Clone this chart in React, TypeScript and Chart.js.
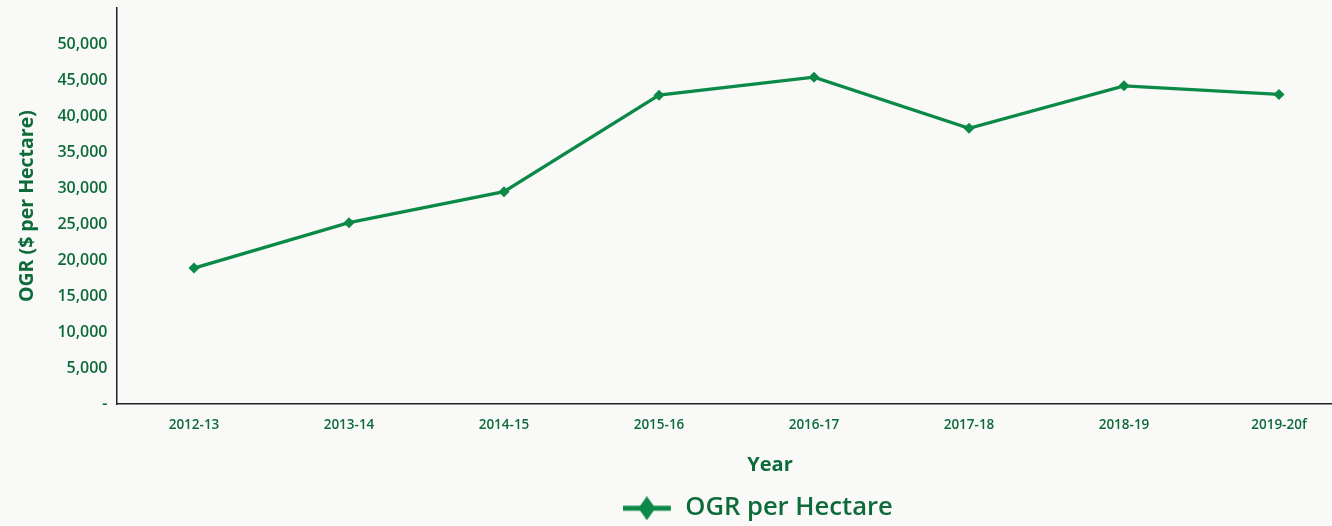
import React, { useEffect, useRef } from "react";
import { Chart, registerables } from "chart.js";

Chart.register(...registerables);

const categories = ["2012-13", "2013-14", "2014-15", "2015-16", "2016-17", "2017-18", "2018-19", "2019-20f"];
const ogrPerHectare = [18900, 25200, 29500, 42900, 45400, 38300, 44200, 43000];
const seriesLabel = "OGR per Hectare";
const yTitle = "OGR ($ per Hectare)";
const xTitle = "Year";
const yMax = 55000;
const yStep = 5000;

const LINE = "#0a8a46";
const TEXT = "#0d6b3a";
const AXIS = "#222222";
const BG = "#f9f9f8";
const FONT = "'Open Sans', sans-serif";

const W = 1540;
const H = 531;
const VIEW_W = 1332;
const VIEW_H = 526;

function makeLegendMarker(): HTMLCanvasElement {
  // marker occupies the left 48px; the right part is transparent so the
  // legend item sits slightly left of the title centre, as in the reference
  const c = document.createElement("canvas");
  c.width = 74;
  c.height = 24;
  const ctx = c.getContext("2d")!;
  ctx.strokeStyle = LINE;
  ctx.lineWidth = 5;
  ctx.beginPath();
  ctx.moveTo(0, 12);
  ctx.lineTo(48, 12);
  ctx.stroke();
  ctx.fillStyle = LINE;
  ctx.beginPath();
  ctx.moveTo(24, 0);
  ctx.lineTo(32.5, 12);
  ctx.lineTo(24, 24);
  ctx.lineTo(15.5, 12);
  ctx.closePath();
  ctx.fill();
  return c;
}

export default function App() {
  const ref = useRef<HTMLCanvasElement | null>(null);

  useEffect(() => {
    if (!ref.current) return;
    const marker = makeLegendMarker();
    const chart = new Chart(ref.current, {
      type: "line",
      data: {
        labels: categories,
        datasets: [
          {
            label: seriesLabel,
            data: ogrPerHectare,
            borderColor: LINE,
            backgroundColor: LINE,
            borderWidth: 3.3,
            pointStyle: "rectRot",
            pointRadius: 5.5,
            pointHoverRadius: 5.5,
            pointBackgroundColor: LINE,
            pointBorderColor: LINE,
            pointBorderWidth: 0,
            tension: 0,
            yAxisID: "y",
          },
        ],
      },
      options: {
        responsive: false,
        animation: false,
        devicePixelRatio: 1,
        layout: { padding: { top: 0, left: 0, right: 0, bottom: 0 } },
        font: { family: FONT },
        scales: {
          x: {
            type: "category",
            offset: true,
            grid: { display: false, drawTicks: false },
            border: { display: true, color: AXIS, width: 1.5 },
            ticks: {
              color: TEXT,
              padding: 13,
              font: { family: FONT, size: 13.5, weight: "600" },
              maxRotation: 0,
              autoSkip: false,
            },
            afterFit: (s: any) => {
              s.height = 46;
            },
          },
          y: {
            type: "linear",
            position: "left",
            min: 0,
            max: yMax,
            grid: { display: false, drawTicks: false },
            border: { display: true, color: AXIS, width: 1.5 },
            ticks: {
              stepSize: yStep,
              color: TEXT,
              padding: 9,
              font: { family: FONT, size: 16, weight: "600" },
              callback: (v: any) => {
                const n = Number(v);
                if (n === 0) return "-";
                if (n >= yMax) return "";
                return n.toLocaleString("en-US");
              },
            },
            title: {
              display: true,
              text: yTitle,
              color: TEXT,
              font: { family: FONT, size: 19.5, weight: "bold" },
              padding: { top: 15.3, bottom: 0 },
            },
            afterFit: (s: any) => {
              s.width = 116.5;
              s.paddingTop = 8;
              s.paddingBottom = 0;
            },
          },
          yR: {
            type: "linear",
            position: "right",
            display: true,
            grid: { display: false, drawTicks: false },
            border: { display: false },
            ticks: { display: false },
            afterFit: (s: any) => {
              s.width = W - 1356.5;
              s.paddingTop = 0;
              s.paddingBottom = 0;
            },
          },
        },
        plugins: {
          tooltip: { enabled: false },
          title: {
            display: true,
            text: xTitle,
            position: "bottom",
            weight: 1,
            color: TEXT,
            font: { family: FONT, size: 20, weight: "bold" },
            padding: { top: 3, bottom: 12.2 },
          } as any,
          legend: {
            display: true,
            position: "bottom",
            labels: {
              usePointStyle: true,
              pointStyle: marker as any,
              pointStyleWidth: 25.2,
              color: TEXT,
              padding: 6,
              font: { family: FONT, size: 25.6, weight: "600" },
            },
          },
        },
      } as any,
    });
    return () => chart.destroy();
  }, []);

  return (
    <div
      style={{
        position: "absolute",
        left: 0,
        top: 0,
        width: VIEW_W,
        height: VIEW_H,
        overflow: "hidden",
        background: BG,
      }}
    >
      <canvas ref={ref} width={W} height={H} style={{ width: W, height: H, display: "block" }} />
    </div>
  );
}
